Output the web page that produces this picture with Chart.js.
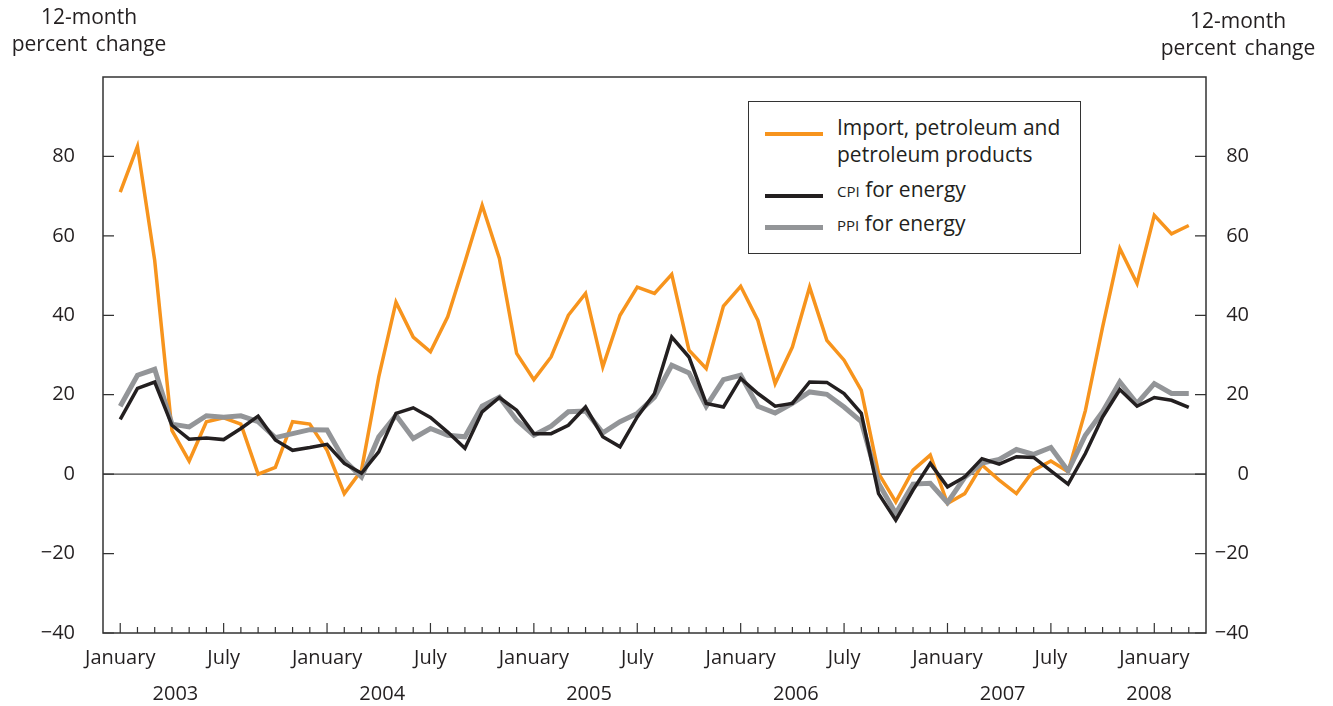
<!DOCTYPE html>
<html>
<head>
<meta charset="utf-8">
<script src="https://cdn.jsdelivr.net/npm/chart.js@4.4.1/dist/chart.umd.min.js"></script>
<style>
  html, body { margin: 0; padding: 0; background: #fff; }
  #wrap { position: relative; width: 1333px; height: 706px; font-family: "Open Sans", sans-serif; color: #231f20; }
  #chart { position: absolute; left: 0; top: 0; }
  .axis-title { position: absolute; font-size: 21px; line-height: 27px; text-align: center; white-space: nowrap; word-spacing: 3px; }
  #legend { position: absolute; left: 748px; top: 101px; width: 333px; height: 153px; border: 1.5px solid #333; box-sizing: border-box; background: #fff; }
  .swatch { position: absolute; left: 16px; width: 58px; }
  .item { position: absolute; left: 88px; font-size: 21px; line-height: 27px; white-space: nowrap; }
  .sc { font-size: 15px; }
</style>
</head>
<body>
<div id="wrap">
  <canvas id="chart" width="1333" height="706"></canvas>
  <div class="axis-title" style="left:0; top:3px; width:178px;">12-month<br>percent change</div>
  <div class="axis-title" style="left:1150px; top:7px; width:176px;">12-month<br>percent change</div>
  <div id="legend"></div>
</div>
<script>
// ---------------- DATA ----------------
// monthly points, January 2003 through March 2008
const years = ['2003', '2004', '2005', '2006', '2007', '2008'];
const yTicks = [-40, -20, 0, 20, 40, 60, 80];

const importPetroleum = [
  71.0, 82.5, 53.8, 11.0, 3.3, 13.2, 14.2, 12.6, 0.0, 1.7, 13.2, 12.6,
  6.0, -4.9, 1.0, 24.5, 43.3, 34.5, 30.8, 39.6, 53.4, 67.7, 54.3, 30.4,
  23.8, 29.5, 40.0, 45.5, 27.0, 40.0, 47.1, 45.5, 50.3, 31.2, 26.6, 42.3,
  47.3, 38.7, 22.8, 32.0, 47.1, 33.7, 28.7, 21.1, 0.2, -7.0, 1.0, 4.8,
  -7.4, -4.9, 2.3, -1.5, -4.9, 1.0, 3.3, 0.6, 16.0, 37.0, 56.8, 48.0,
  65.2, 60.5, 62.6
];
const cpiEnergy = [
  13.8, 21.6, 23.2, 12.3, 8.8, 9.1, 8.7, 11.5, 14.6, 8.6, 6.0, 6.7,
  7.5, 2.7, 0.2, 5.6, 15.3, 16.7, 14.3, 10.6, 6.5, 15.7, 19.3, 16.1,
  10.2, 10.2, 12.3, 16.9, 9.4, 6.9, 14.4, 20.3, 34.5, 29.5, 17.8, 16.9,
  24.1, 20.3, 17.1, 17.8, 23.2, 23.1, 20.3, 15.3, -4.9, -11.6, -4.0, 2.7,
  -3.2, -0.7, 3.9, 2.5, 4.4, 4.2, 0.8, -2.5, 5.2, 14.4, 21.3, 17.1,
  19.3, 18.6, 16.8
];
const ppiEnergy = [
  17.1, 24.9, 26.4, 12.6, 11.9, 14.7, 14.3, 14.7, 13.2, 9.2, 10.2, 11.2,
  11.1, 3.5, -0.7, 9.4, 14.8, 9.0, 11.5, 9.8, 9.4, 17.1, 19.4, 13.6,
  9.8, 12.1, 15.7, 15.9, 10.4, 13.2, 15.3, 19.4, 27.4, 25.5, 17.1, 23.8,
  24.9, 17.1, 15.4, 17.8, 20.7, 20.1, 16.9, 13.2, -2.3, -9.9, -2.5, -2.3,
  -7.2, -0.8, 2.8, 3.7, 6.2, 5.0, 6.7, 0.8, 9.8, 15.7, 23.2, 17.8,
  22.8, 20.3, 20.3
];

const series = [
  { name: 'Import, petroleum and<br>petroleum products', data: importPetroleum, color: '#f7941d', width: 3.5, order: 3 },
  { name: '<span class="sc">CPI</span> for energy', data: cpiEnergy, color: '#231f20', width: 3.5, order: 1 },
  { name: '<span class="sc">PPI</span> for energy', data: ppiEnergy, color: '#939598', width: 5, order: 2 }
];

const FONT = '"Open Sans", sans-serif';
const INK = '#231f20';

function fmt(v) {
  if (v === 100) return '';
  return v < 0 ? '\u2212' + Math.abs(v) : String(v);
}

// frame, zero line and inward ticks
const framePlugin = {
  id: 'frame',
  beforeDatasetsDraw(chart) {
    const { ctx, chartArea: a, scales } = chart;
    ctx.save();
    ctx.strokeStyle = '#444';
    ctx.lineWidth = 1.3;
    const y0 = scales.y.getPixelForValue(0);
    ctx.beginPath();
    ctx.moveTo(a.left, y0);
    ctx.lineTo(a.right, y0);
    ctx.stroke();

    ctx.lineWidth = 1.5;
    ctx.strokeStyle = '#333';
    ctx.strokeRect(a.left, a.top, a.right - a.left, a.bottom - a.top);

    ctx.lineWidth = 1.2;
    ctx.beginPath();
    yTicks.forEach(v => {
      const y = scales.y.getPixelForValue(v);
      ctx.moveTo(a.left, y); ctx.lineTo(a.left + 11, y);
      ctx.moveTo(a.right, y); ctx.lineTo(a.right - 11, y);
    });
    for (let m = 0; m < importPetroleum.length; m++) {
      const x = scales.x.getPixelForValue(m);
      const len = m % 6 === 0 ? 10 : 6;
      ctx.moveTo(x, a.bottom); ctx.lineTo(x, a.bottom - len);
    }
    ctx.stroke();
    ctx.restore();
  },
  afterDraw(chart) {
    const { ctx, scales } = chart;
    ctx.save();
    ctx.font = '20px ' + FONT;
    ctx.fillStyle = INK;
    ctx.textAlign = 'center';
    years.forEach((yr, k) => {
      const pos = k < years.length - 1 ? 12 * k + 3.2 : 12 * k - 0.3;
      ctx.fillText(yr, scales.x.getPixelForValue(pos), 700);
    });
    ctx.restore();
  }
};

const chart = new Chart(document.getElementById('chart'), {
  type: 'line',
  data: {
    datasets: series.map(s => ({
      label: s.name,
      data: s.data.map((v, i) => ({ x: i, y: v })),
      borderColor: s.color,
      borderWidth: s.width,
      pointRadius: 0,
      tension: 0,
      fill: false,
      order: s.order
    }))
  },
  options: {
    responsive: false,
    animation: false,
    devicePixelRatio: 1,
    layout: { padding: { top: 77, left: 0, right: 84, bottom: 0 } },
    plugins: { legend: { display: false }, tooltip: { enabled: false } },
    scales: {
      x: {
        type: 'linear',
        min: -1,
        max: 63,
        afterFit: s => { s.height = 73; },
        grid: { display: false },
        border: { display: false },
        ticks: {
          stepSize: 1,
          autoSkip: false,
          maxTicksLimit: 200,
          maxRotation: 0,
          padding: 5,
          color: INK,
          font: { family: FONT, size: 20 },
          callback: v => {
            const m = ((v % 12) + 12) % 12;
            return m === 0 ? 'January' : m === 6 ? 'July' : '';
          }
        }
      },
      y: {
        position: 'left',
        min: -40,
        max: 100,
        afterFit: s => { s.width = 103; },
        grid: { display: false },
        border: { display: false },
        ticks: { stepSize: 20, padding: 20, color: INK, font: { family: FONT, size: 20 }, callback: fmt }
      },
      y2: {
        position: 'right',
        display: true,
        min: -40,
        max: 100,
        afterFit: s => { s.width = 43; },
        grid: { display: false },
        border: { display: false },
        ticks: { stepSize: 20, padding: 6, crossAlign: 'far', color: INK, font: { family: FONT, size: 20 }, callback: fmt }
      }
    }
  },
  plugins: [framePlugin]
});

// legend built from the same series
const legend = document.getElementById('legend');
const swatchTop = [30, 92, 123];
const textTop = [12, 74, 108];
series.forEach((s, i) => {
  const sw = document.createElement('div');
  sw.className = 'swatch';
  sw.style.top = swatchTop[i] + 'px';
  sw.style.height = s.width + 'px';
  sw.style.background = s.color;
  legend.appendChild(sw);
  const t = document.createElement('div');
  t.className = 'item';
  t.style.top = textTop[i] + 'px';
  t.innerHTML = s.name;
  legend.appendChild(t);
});
</script>
</body>
</html>
